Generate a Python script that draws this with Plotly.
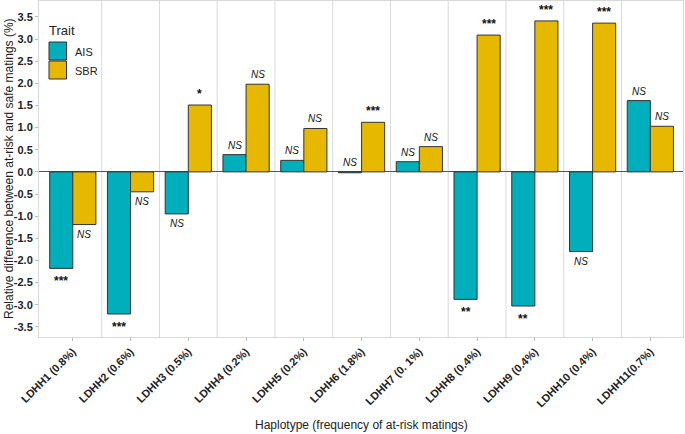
import plotly.graph_objects as go

haplotypes = ["LDHH1 (0.8%)", "LDHH2 (0.6%)", "LDHH3 (0.5%)", "LDHH4 (0.2%)",
              "LDHH5 (0.2%)", "LDHH6 (1.8%)", "LDHH7 (0. 1%)", "LDHH8 (0.4%)",
              "LDHH9 (0.4%)", "LDHH10 (0.4%)", "LDHH11(0.7%)"]
ais_values = [-2.18, -3.21, -0.95, 0.39, 0.26, -0.02, 0.23, -2.88, -3.03, -1.80, 1.61]
sbr_values = [-1.19, -0.45, 1.51, 1.98, 0.98, 1.12, 0.57, 3.09, 3.41, 3.36, 1.03]
ais_sig = ["***", "***", "NS", "NS", "NS", "NS", "NS", "**", "**", "NS", "NS"]
sbr_sig = ["NS", "NS", "*", "NS", "NS", "***", "NS", "***", "***", "***", "NS"]
y_ticks = [-3.5, -3.0, -2.5, -2.0, -1.5, -1.0, -0.5, 0.0, 0.5, 1.0, 1.5, 2.0, 2.5, 3.0, 3.5]
traits = ["AIS", "SBR"]

AIS_COLOR = "#00AFBB"
SBR_COLOR = "#E7B800"
EDGE = "#333333"
FONT = "Liberation Sans, Arial, sans-serif"

W, H = 685, 434
ML, MR, MT, MB = 39, 2, 1, 97
PW, PH = W - ML - MR, H - MT - MB

def px_x(px):
    return (px - ML) / PW

def px_y(py):
    return 1 - (py - MT) / PH

xpos = list(range(1, len(haplotypes) + 1))

fig = go.Figure()
fig.add_trace(go.Bar(x=xpos, y=ais_values, name=traits[0], showlegend=False,
                     marker=dict(color=AIS_COLOR, line=dict(color=EDGE, width=1))))
fig.add_trace(go.Bar(x=xpos, y=sbr_values, name=traits[1], showlegend=False,
                     marker=dict(color=SBR_COLOR, line=dict(color=EDGE, width=1))))

def add_labels(values, labels, offset):
    for x, v, lab in zip(xpos, values, labels):
        above = v > -0.1
        is_ns = lab == "NS"
        fig.add_annotation(
            x=x + offset, y=max(v, 0) if above else v, xref="x", yref="y",
            text="<i>NS</i>" if is_ns else f"<b>{lab}</b>",
            showarrow=False,
            yanchor="bottom" if above else "top",
            yshift=2 if above else (-2 if is_ns else -4),
            font=dict(family=FONT, size=10 if is_ns else 12, color="#111111"),
        )

add_labels(ais_values, ais_sig, -0.2)
add_labels(sbr_values, sbr_sig, 0.2)

for b in range(1, len(haplotypes)):
    fig.add_shape(type="line", xref="x", yref="paper", x0=b + 0.5, x1=b + 0.5, y0=0, y1=1,
                  line=dict(color="#D9D9D9", width=1), layer="below")

# custom legend (key boxes like the reference)
fig.add_annotation(xref="paper", yref="paper", x=px_x(47), y=px_y(30), text="Trait", showarrow=False,
                   xanchor="left", yanchor="middle", font=dict(family=FONT, size=13, color="#222222"))
for i, (name, col) in enumerate(zip(traits, [AIS_COLOR, SBR_COLOR])):
    top = 42 + i * 19
    fig.add_shape(type="rect", xref="paper", yref="paper", x0=px_x(49), x1=px_x(66.5),
                  y0=px_y(top + 18), y1=px_y(top), fillcolor=col, line=dict(color=EDGE, width=1))
    fig.add_annotation(xref="paper", yref="paper", x=px_x(73), y=px_y(top + 9.5), text=name, showarrow=False,
                       xanchor="left", yanchor="middle", font=dict(family=FONT, size=11, color="#222222"))

# axis titles
fig.add_annotation(xref="paper", yref="paper", x=0.5, y=px_y(425), text="Haplotype (frequency of at-risk matings)",
                   showarrow=False, xanchor="center", yanchor="middle", font=dict(family=FONT, size=12, color="#222222"))
fig.add_annotation(xref="paper", yref="paper", x=px_x(9), y=0.5, textangle=-90,
                   text="Relative difference between at-risk and safe matings (%)",
                   showarrow=False, xanchor="center", yanchor="middle", font=dict(family=FONT, size=12, color="#222222"))

fig.update_layout(
    width=W, height=H,
    margin=dict(l=ML, r=MR, t=MT, b=MB, autoexpand=False),
    paper_bgcolor="white", plot_bgcolor="white",
    barmode="group", bargap=0.2, bargroupgap=0,
    font=dict(family=FONT, size=11, color="#222222"),
    showlegend=False,
)
fig.update_xaxes(
    range=[0.415, 11.565], tickmode="array", tickvals=xpos, ticktext=[f"<b>{h}</b>" for h in haplotypes],
    tickangle=-45, showgrid=False, zeroline=False, ticks="outside", ticklen=3, tickcolor="#BBBBBB",
    showline=True, linecolor="#D9D9D9", mirror=True, automargin=False,
    tickfont=dict(size=11, color="#222222"),
)
fig.update_yaxes(
    range=[-3.73, 3.86], tickmode="array", tickvals=y_ticks, ticktext=[f"<b>{t:.1f}</b>" for t in y_ticks],
    showgrid=False, zeroline=True, zerolinecolor="#555555", zerolinewidth=1,
    ticks="outside", ticklen=3, tickcolor="#BBBBBB",
    showline=True, linecolor="#D9D9D9", mirror=True, automargin=False,
    tickfont=dict(size=11, color="#222222"),
)

fig.write_html("out.html", config={"displayModeBar": False},
               post_script="document.body.style.margin='0';document.body.style.overflow='hidden';")
